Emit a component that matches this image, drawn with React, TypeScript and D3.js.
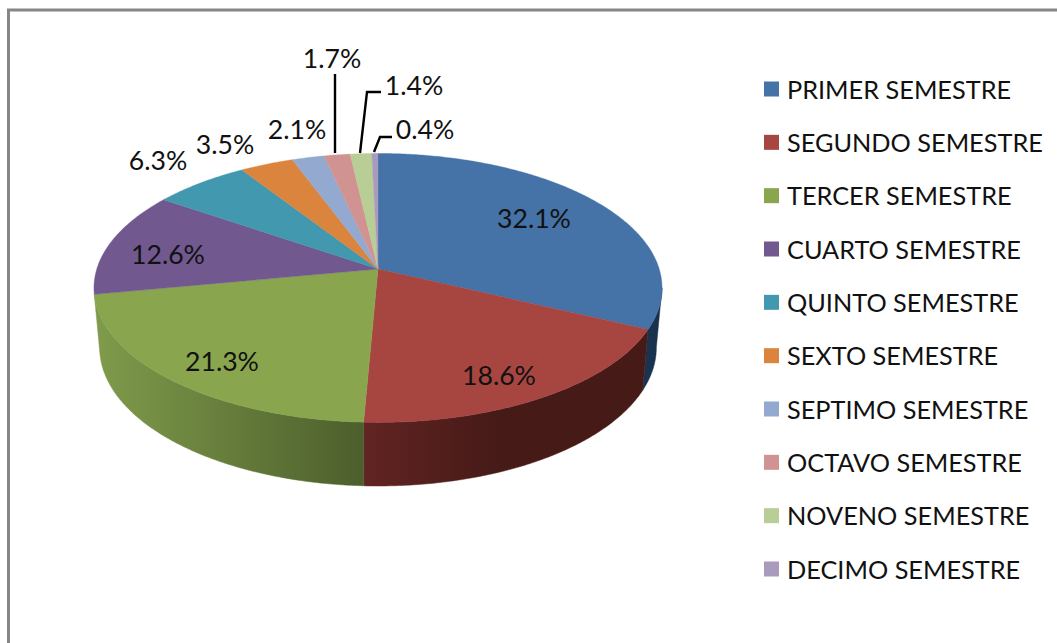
import React from "react";
import * as d3 from "d3";

const categories = ["PRIMER SEMESTRE", "SEGUNDO SEMESTRE", "TERCER SEMESTRE", "CUARTO SEMESTRE", "QUINTO SEMESTRE", "SEXTO SEMESTRE", "SEPTIMO SEMESTRE", "OCTAVO SEMESTRE", "NOVENO SEMESTRE", "DECIMO SEMESTRE"];
const values = [32.1, 18.6, 21.3, 12.6, 6.3, 3.5, 2.1, 1.7, 1.4, 0.4];
const colors = ["#4572A7", "#A74541", "#89A54E", "#71588F", "#4198AF", "#DB843D", "#93A9CF", "#D19392", "#B9CD96", "#A99BBD"];
const labelX = [534, 499, 222, 168, 158, 225, 297, 332, 414, 425];
const labelY = [218, 375, 361, 254, 160, 144, 129, 58, 85, 129];
const leaders: [number, number][][] = [
  [[335, 74], [335, 153]],
  [[381, 92], [367, 92], [360, 153]],
  [[392, 137], [380, 137], [374, 152]],
];

const W = 1057, H = 643;
const CX = 378, CY = 269;
const A = 281.2, B = 131.8, K = 0.1407;
const DEPTH = 59, SX = 0.98, SY = 1.03;
const FRONT_START = (98 * Math.PI) / 180;

const top = (t: number): [number, number] => {
  const u = Math.sin(t), v = -Math.cos(t), w = 1 - K * v;
  return [CX + (A * u) / w, CY + (B * v) / w];
};
const bottom = (t: number): [number, number] => {
  const [x, y] = top(t);
  return [CX + SX * (x - CX), CY + SY * (y - CY) + DEPTH];
};
const samples = (a: number, b: number) => {
  const n = Math.max(2, Math.ceil((b - a) / 0.01));
  return d3.range(n + 1).map((i) => a + ((b - a) * i) / n);
};
const line = d3.line();
const pie = d3.pie<number>().sort(null)(values);

const font = "Lato, Carlito, Calibri, sans-serif";
const yLegend = d3.scaleLinear().domain([0, 9]).range([88.5, 568.5]);

const wallStops: Record<number, [string, string, number, number]> = {
  0: ["#1B3551", "#18304B", 640, 662],
  1: ["#612422", "#451A17", 365, 500],
  2: ["#7E9A4A", "#4C5E2C", 100, 365],
};

export default function App() {
  const walls = pie.slice(0, 3).map((s, i) => {
    const a = Math.max(s.startAngle, FRONT_START);
    const ts = samples(a, s.endAngle);
    const d = line([...ts.map(top), ...ts.slice().reverse().map(bottom)]) + "Z";
    return { i, d };
  });
  return (
    <svg width={W} height={H} style={{ position: "absolute", left: 0, top: 0, display: "block" }}>
      <rect width={W} height={H} fill="#fff" />
      <path d={`M${W},10H8.5V${H}`} fill="none" stroke="#868686" strokeWidth={3} />
      <defs>
        {Object.entries(wallStops).map(([k, [c1, c2, x1, x2]]) => (
          <linearGradient key={k} id={`wall${k}`} gradientUnits="userSpaceOnUse" x1={x1} x2={x2} y1={0} y2={0}>
            <stop offset="0" stopColor={c1} />
            <stop offset="1" stopColor={c2} />
          </linearGradient>
        ))}
      </defs>
      {walls.map((w) => (
        <path key={w.i} d={w.d} fill={`url(#wall${w.i})`} stroke={`url(#wall${w.i})`} strokeWidth={0.5} />
      ))}
      {pie.map((s, i) => (
        <path
          key={i}
          d={line([[CX, CY], ...samples(s.startAngle, s.endAngle).map(top)]) + "Z"}
          fill={colors[i]}
          stroke={colors[i]}
          strokeWidth={0.4}
        />
      ))}
      {leaders.map((l, i) => (
        <path key={i} d={line(l) ?? ""} fill="none" stroke="#000" strokeWidth={2.4} />
      ))}
      {values.map((v, i) => (
        <text key={i} x={labelX[i]} y={labelY[i]} textAnchor="middle" dominantBaseline="central" fontFamily={font} fontSize={26.6} fill="#111">
          {v.toFixed(1)}%
        </text>
      ))}
      {categories.map((c, i) => (
        <g key={c}>
          <rect x={764} y={yLegend(i) - 7} width={15} height={15} fill={colors[i]} />
          <text x={787} y={yLegend(i)} dominantBaseline="central" fontFamily={font} fontSize={25.3} fill="#111">
            {c}
          </text>
        </g>
      ))}
    </svg>
  );
}
